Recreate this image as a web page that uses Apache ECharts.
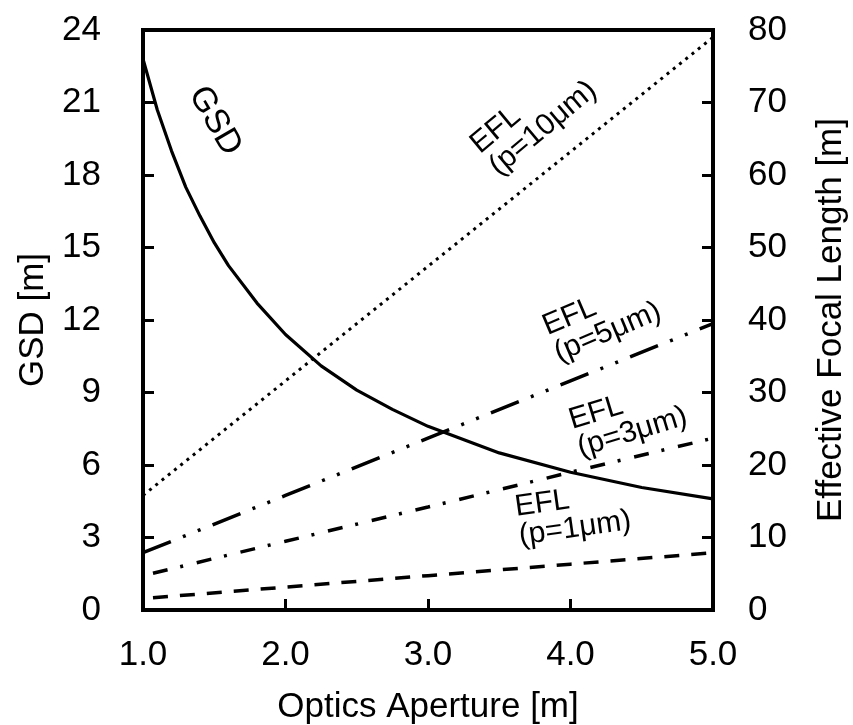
<!DOCTYPE html>
<html lang="en">
<head>
    <meta charset="UTF-8">
    <title>GSD / EFL</title>
    <style>
        html, body { margin: 0; padding: 0; background: #fff; }
        #main { width: 853px; height: 725px; }
    </style>
</head>
<body>
    <div id="main"></div>
    <script src="https://cdn.jsdelivr.net/npm/echarts@6/dist/echarts.min.js"></script>
    <script>
        var font = '"Liberation Sans", Arial, sans-serif';

        // GSD curve (left axis)
        var gsdAperture = [1.0, 1.1, 1.2, 1.3, 1.4, 1.5, 1.6, 1.8, 2.0, 2.25, 2.5, 2.75, 3.0, 3.5, 4.0, 4.5, 5.0];
        var gsdValues = [22.8, 20.7, 19.0, 17.5, 16.3, 15.2, 14.25, 12.7, 11.4, 10.1, 9.1, 8.3, 7.6, 6.5, 5.7, 5.07, 4.6];

        // EFL lines (right axis)
        var eflAperture = [1.0, 2.0, 3.0, 4.0, 5.0];
        var eflApertureLow = [1.07, 2.0, 3.0, 4.0, 5.0];
        var efl10 = [15.8, 31.6, 47.4, 63.2, 79.0];
        var efl5 = [7.9, 15.8, 23.7, 31.6, 39.5];
        var efl3 = [5.07, 9.48, 14.2, 19.0, 23.7];
        var efl1 = [1.69, 3.16, 4.74, 6.32, 7.9];

        function pairs(xs, ys) {
            return xs.map(function (x, i) { return [x, ys[i]]; });
        }

        function lineSeries(name, data, axis, type, width) {
            return {
                name: name,
                type: 'line',
                yAxisIndex: axis,
                data: data,
                showSymbol: false,
                smooth: false,
                silent: true,
                lineStyle: { color: '#000', width: width, type: type, cap: 'butt' }
            };
        }

        function label(text, x, y, deg, align) {
            return {
                type: 'text',
                x: x,
                y: y,
                rotation: deg * Math.PI / 180,
                style: {
                    text: text,
                    font: '30px ' + font,
                    fill: '#000',
                    align: align,
                    verticalAlign: 'middle',
                    lineHeight: 29
                }
            };
        }

        var chart = echarts.init(document.getElementById('main'));

        var tickStyle = { show: true, inside: true, length: 11, lineStyle: { color: '#000', width: 3 } };
        var lineAxis = { show: true, lineStyle: { color: '#000', width: 4 } };
        var labelStyle = { color: '#000', fontSize: 35, fontFamily: font };
        var nameStyle = { color: '#000', fontSize: 35, fontFamily: font };

        var option = {
            animation: false,
            backgroundColor: '#fff',
            grid: {
                left: 143, right: 140, top: 30, bottom: 115,
                outerBoundsMode: 'none',
                containLabel: false,
                show: true, borderColor: '#000', borderWidth: 4
            },
            xAxis: {
                type: 'value',
                min: 1, max: 5, interval: 1,
                name: 'Optics Aperture [m]',
                nameLocation: 'middle',
                nameGap: 80,
                nameTextStyle: nameStyle,
                axisLine: lineAxis,
                axisTick: tickStyle,
                splitLine: { show: false },
                axisLabel: Object.assign({ margin: 28, formatter: function (v) { return v.toFixed(1); } }, labelStyle)
            },
            yAxis: [{
                type: 'value',
                position: 'left',
                min: 0, max: 24, interval: 3,
                name: 'GSD [m]',
                nameLocation: 'middle',
                nameRotate: 90,
                nameGap: 86,
                nameTextStyle: nameStyle,
                axisLine: lineAxis,
                axisTick: tickStyle,
                splitLine: { show: false },
                axisLabel: Object.assign({ margin: 42 }, labelStyle)
            }, {
                type: 'value',
                position: 'right',
                min: 0, max: 80, interval: 10,
                name: 'Effective Focal Length [m]',
                nameLocation: 'middle',
                nameRotate: 90,
                nameGap: 101,
                nameTextStyle: nameStyle,
                axisLine: lineAxis,
                axisTick: tickStyle,
                splitLine: { show: false },
                axisLabel: Object.assign({ margin: 35 }, labelStyle)
            }],
            series: [
                lineSeries('GSD', pairs(gsdAperture, gsdValues), 0, 'solid', 3.2),
                lineSeries('EFL p=10', pairs(eflAperture, efl10), 1, [3, 5], 3),
                lineSeries('EFL p=5', pairs(eflAperture, efl5), 1, [30, 13, 3, 13, 3, 13], 3.5),
                lineSeries('EFL p=3', pairs(eflApertureLow, efl3), 1, [15, 13, 3, 14], 3.5),
                lineSeries('EFL p=1', pairs(eflApertureLow, efl1), 1, [15, 12], 3.5)
            ],
            graphic: [
                {
                    type: 'text', x: 215, y: 121, rotation: -60 * Math.PI / 180,
                    style: { text: 'GSD', font: '34px ' + font, fill: '#000', align: 'center', verticalAlign: 'middle' }
                },
                label('EFL\n(p=10μm)', 484, 159, 40, 'left'),
                label('EFL\n(p=5μm)', 550, 341, 23, 'left'),
                label('EFL\n(p=3μm)', 574, 435, 17, 'left'),
                label('EFL\n(p=1μm)', 517, 522, 8, 'left')
            ]
        };
        chart.setOption(option);
    </script>
</body>
</html>
